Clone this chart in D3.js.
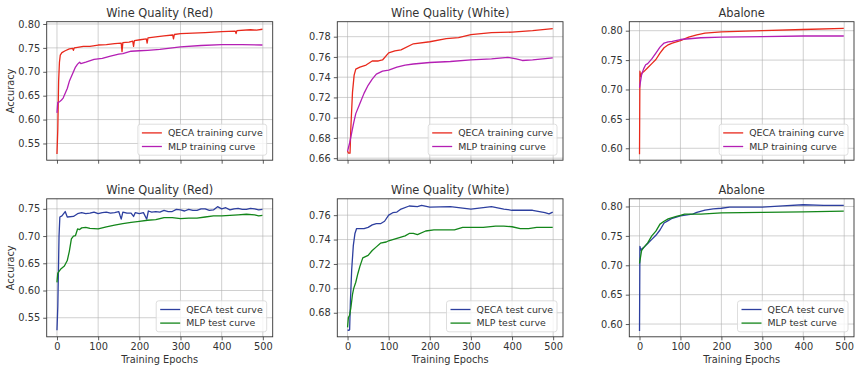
<!DOCTYPE html>
<html>
<head>
<meta charset="utf-8">
<script src="https://cdn.jsdelivr.net/npm/d3@7"></script>
<style>
  body { margin: 0; background: #fff; }
  svg { display: block; font-family: "DejaVu Sans", sans-serif; }
</style>
</head>
<body>
<div id="chart"></div>
<script>
// ---- data: [epoch, accuracy] ----
const epochTicks = [0, 100, 200, 300, 400, 500];
const titles = ["Wine Quality (Red)", "Wine Quality (White)", "Abalone"];
const trainLabels = ["QECA training curve", "MLP training curve"];
const testLabels = ["QECA test curve", "MLP test curve"];

const redTrainQeca = [[0,0.528],[2,0.58],[4,0.68],[6,0.72],[8,0.735],[12,0.74],[20,0.744],[30,0.748],[38,0.749],[40,0.745],[42,0.750],[50,0.751],[64,0.753],[80,0.753],[100,0.756],[120,0.757],[140,0.759],[156,0.760],[158,0.742],[160,0.761],[175,0.762],[184,0.764],[186,0.753],[188,0.765],[202,0.767],[217,0.769],[219,0.760],[221,0.771],[240,0.773],[260,0.775],[281,0.777],[283,0.769],[285,0.778],[300,0.780],[330,0.781],[360,0.782],[400,0.784],[433,0.785],[435,0.780],[437,0.786],[470,0.788],[485,0.787],[499,0.789]];
const redTrainMlp = [[0,0.614],[2,0.636],[6,0.637],[11,0.641],[15,0.645],[20,0.655],[25,0.665],[30,0.68],[35,0.69],[40,0.70],[45,0.71],[50,0.716],[55,0.720],[58,0.717],[70,0.720],[90,0.726],[110,0.728],[130,0.733],[150,0.737],[160,0.738],[180,0.743],[200,0.744],[220,0.745],[250,0.747],[300,0.752],[350,0.755],[400,0.757],[450,0.757],[499,0.756]];

const whiteTrainQeca = [[0,0.667],[2,0.665],[6,0.665],[8,0.69],[12,0.725],[16,0.742],[20,0.748],[30,0.750],[45,0.752],[60,0.756],[75,0.756],[85,0.757],[100,0.764],[115,0.766],[130,0.767],[160,0.773],[200,0.775],[240,0.778],[270,0.779],[300,0.782],[350,0.784],[400,0.7845],[450,0.786],[499,0.788]];
const whiteTrainMlp = [[0,0.667],[5,0.675],[10,0.685],[15,0.695],[20,0.704],[30,0.714],[40,0.724],[50,0.732],[60,0.738],[70,0.743],[85,0.746],[100,0.747],[120,0.750],[140,0.752],[160,0.753],[200,0.7545],[250,0.7555],[300,0.757],[350,0.758],[390,0.7595],[410,0.758],[425,0.7565],[450,0.757],[475,0.758],[499,0.759]];

const abaloneTrainQeca = [[0,0.59],[1,0.731],[3,0.722],[6,0.728],[10,0.730],[20,0.737],[30,0.744],[40,0.751],[50,0.762],[60,0.771],[70,0.776],[80,0.779],[90,0.781],[100,0.783],[120,0.789],[140,0.793],[160,0.796],[200,0.798],[300,0.800],[400,0.802],[499,0.804]];
const abaloneTrainMlp = [[0,0.703],[5,0.725],[10,0.735],[15,0.742],[20,0.744],[30,0.752],[40,0.762],[50,0.772],[60,0.779],[70,0.781],[80,0.782],[100,0.785],[150,0.788],[200,0.789],[300,0.790],[400,0.791],[499,0.791]];

const redTestQeca = [[0,0.527],[2,0.57],[5,0.70],[7,0.735],[12,0.737],[20,0.745],[25,0.735],[40,0.736],[50,0.741],[60,0.743],[70,0.741],[80,0.742],[90,0.744],[100,0.741],[110,0.743],[120,0.744],[130,0.742],[140,0.743],[150,0.745],[156,0.731],[160,0.744],[170,0.742],[180,0.742],[186,0.736],[190,0.743],[200,0.741],[210,0.743],[218,0.731],[222,0.746],[230,0.744],[240,0.745],[250,0.744],[260,0.747],[270,0.745],[280,0.745],[290,0.749],[300,0.748],[310,0.746],[320,0.749],[330,0.747],[340,0.747],[350,0.750],[360,0.750],[370,0.747],[380,0.748],[390,0.754],[400,0.750],[410,0.752],[420,0.748],[430,0.750],[440,0.751],[450,0.749],[460,0.749],[470,0.751],[480,0.750],[490,0.748],[499,0.749]];
const redTestMlp = [[0,0.615],[2,0.632],[5,0.635],[10,0.640],[18,0.645],[25,0.655],[30,0.672],[35,0.695],[40,0.700],[45,0.701],[50,0.713],[55,0.712],[60,0.715],[70,0.716],[80,0.714],[100,0.713],[120,0.717],[140,0.720],[160,0.723],[180,0.725],[200,0.727],[220,0.729],[240,0.730],[260,0.734],[280,0.734],[300,0.732],[320,0.733],[340,0.733],[360,0.735],[380,0.737],[400,0.737],[420,0.738],[440,0.739],[460,0.740],[480,0.739],[490,0.737],[499,0.738]];

const whiteTestQeca = [[0,0.666],[3,0.6655],[5,0.666],[7,0.69],[10,0.715],[14,0.735],[18,0.745],[22,0.749],[30,0.749],[40,0.749],[50,0.750],[60,0.752],[70,0.753],[80,0.753],[90,0.755],[100,0.760],[110,0.762],[120,0.7625],[130,0.765],[150,0.7675],[170,0.767],[180,0.768],[200,0.7665],[250,0.767],[300,0.765],[350,0.767],[380,0.765],[400,0.764],[450,0.764],[480,0.762],[490,0.761],[499,0.7625]];
const whiteTestMlp = [[0,0.668],[2,0.676],[5,0.678],[8,0.684],[12,0.695],[15,0.700],[20,0.705],[25,0.712],[30,0.718],[37,0.725],[50,0.727],[60,0.731],[70,0.734],[80,0.737],[94,0.738],[100,0.739],[120,0.741],[140,0.743],[150,0.745],[160,0.745],[170,0.744],[190,0.747],[210,0.748],[240,0.748],[260,0.748],[280,0.750],[300,0.750],[330,0.750],[360,0.751],[380,0.751],[400,0.7505],[420,0.749],[440,0.749],[460,0.750],[480,0.750],[499,0.750]];

const abaloneTestQeca = [[0,0.588],[1,0.732],[3,0.726],[6,0.728],[10,0.730],[20,0.737],[30,0.744],[40,0.751],[50,0.760],[60,0.772],[70,0.776],[80,0.780],[90,0.782],[100,0.784],[120,0.786],[130,0.787],[140,0.790],[160,0.794],[180,0.796],[200,0.797],[220,0.799],[250,0.799],[300,0.799],[350,0.801],[400,0.803],[450,0.802],[499,0.802]];
const abaloneTestMlp = [[0,0.703],[5,0.725],[10,0.730],[20,0.738],[30,0.750],[40,0.758],[50,0.770],[60,0.775],[70,0.779],[80,0.781],[90,0.783],[100,0.785],[110,0.787],[120,0.787],[150,0.787],[200,0.789],[300,0.790],[400,0.791],[499,0.792]];

const yTicksTop = [[0.55,0.60,0.65,0.70,0.75,0.80],[0.66,0.68,0.70,0.72,0.74,0.76,0.78],[0.60,0.65,0.70,0.75,0.80]];
const yTicksBottom = [[0.55,0.60,0.65,0.70,0.75],[0.68,0.70,0.72,0.74,0.76],[0.60,0.65,0.70,0.75,0.80]];

// ---- layout ----
const W = 857, H = 367;
const colX = [[46.7, 272.7], [337.3, 563], [629.3, 854]];
const rowY = [[21.7, 160.2], [198.8, 336.8]];
const yDomains = [
  [[0.515, 0.8048], [0.658, 0.7948], [0.5797, 0.8153]],
  [[0.515, 0.7684], [0.6603, 0.7734], [0.5783, 0.8131]]
];
const colors = { qecaTrain: "#e8291c", mlpTrain: "#b41fb4", qecaTest: "#2d3f9f", mlpTest: "#13861a" };
const textColor = "#333";

const panels = [
  { row: 0, col: 0, series: [redTrainQeca, redTrainMlp], names: trainLabels, colors: [colors.qecaTrain, colors.mlpTrain], yTicks: yTicksTop[0] },
  { row: 0, col: 1, series: [whiteTrainQeca, whiteTrainMlp], names: trainLabels, colors: [colors.qecaTrain, colors.mlpTrain], yTicks: yTicksTop[1] },
  { row: 0, col: 2, series: [abaloneTrainQeca, abaloneTrainMlp], names: trainLabels, colors: [colors.qecaTrain, colors.mlpTrain], yTicks: yTicksTop[2] },
  { row: 1, col: 0, series: [redTestQeca, redTestMlp], names: testLabels, colors: [colors.qecaTest, colors.mlpTest], yTicks: yTicksBottom[0] },
  { row: 1, col: 1, series: [whiteTestQeca, whiteTestMlp], names: testLabels, colors: [colors.qecaTest, colors.mlpTest], yTicks: yTicksBottom[1] },
  { row: 1, col: 2, series: [abaloneTestQeca, abaloneTestMlp], names: testLabels, colors: [colors.qecaTest, colors.mlpTest], yTicks: yTicksBottom[2] }
];

const svg = d3.select("#chart").append("svg")
  .attr("width", W).attr("height", H)
  .attr("viewBox", [0, 0, W, H]);

panels.forEach((p) => {
  const [x0, x1] = colX[p.col];
  const [y0, y1] = rowY[p.row];
  const x = d3.scaleLinear().domain([-24.95, 523.95]).range([x0, x1]);
  const y = d3.scaleLinear().domain(yDomains[p.row][p.col]).range([y1, y0]);
  const g = svg.append("g");

  // grid
  g.append("g").selectAll("line").data(epochTicks).join("line")
    .attr("x1", (d) => x(d)).attr("x2", (d) => x(d))
    .attr("y1", y0).attr("y2", y1)
    .attr("stroke", "#b0b0b0").attr("stroke-opacity", 0.6).attr("stroke-width", 1);
  g.append("g").selectAll("line").data(p.yTicks).join("line")
    .attr("x1", x0).attr("x2", x1)
    .attr("y1", (d) => y(d)).attr("y2", (d) => y(d))
    .attr("stroke", "#b0b0b0").attr("stroke-opacity", 0.6).attr("stroke-width", 1);

  // lines
  const line = d3.line().x((d) => x(d[0])).y((d) => y(d[1]));
  p.series.forEach((s, i) => {
    g.append("path").datum(s)
      .attr("fill", "none")
      .attr("stroke", p.colors[i])
      .attr("stroke-width", 1.3)
      .attr("stroke-linejoin", "round")
      .attr("d", line);
  });

  // axes
  const xAxis = g.append("g")
    .attr("transform", `translate(0,${y1})`)
    .call(d3.axisBottom(x).tickValues(epochTicks).tickSize(3.5).tickPadding(3)
      .tickFormat(p.row === 1 ? d3.format("d") : () => ""));
  const yAxis = g.append("g")
    .attr("transform", `translate(${x0},0)`)
    .call(d3.axisLeft(y).tickValues(p.yTicks).tickSize(3.5).tickPadding(3).tickFormat(d3.format(".2f")));
  [xAxis, yAxis].forEach((a) => {
    a.select(".domain").remove();
    a.selectAll(".tick line").attr("stroke", textColor).attr("stroke-width", 0.8);
    a.selectAll("text").attr("fill", textColor).style("font-size", "9.8px")
      .style("font-family", "DejaVu Sans");
  });

  // frame
  g.append("rect")
    .attr("x", x0).attr("y", y0)
    .attr("width", x1 - x0).attr("height", y1 - y0)
    .attr("fill", "none").attr("stroke", "#333").attr("stroke-width", 0.9);

  // title
  g.append("text")
    .attr("x", (x0 + x1) / 2).attr("y", y0 - 5)
    .attr("text-anchor", "middle")
    .attr("fill", textColor).style("font-size", "11.4px").style("font-weight", "normal")
    .text(titles[p.col]);

  if (p.col === 0) {
    g.append("text")
      .attr("transform", `translate(14,${(y0 + y1) / 2}) rotate(-90)`)
      .attr("text-anchor", "middle")
      .attr("fill", textColor).style("font-size", "9.8px")
      .text("Accuracy");
  }
  if (p.row === 1) {
    g.append("text")
      .attr("x", (x0 + x1) / 2).attr("y", y1 + 26.5)
      .attr("text-anchor", "middle")
      .attr("fill", textColor).style("font-size", "9.8px")
      .text("Training Epochs");
  }

  // legend
  const lg = g.append("g");
  const box = lg.append("rect");
  const texts = p.names.map((n, i) =>
    lg.append("text")
      .attr("x", 0).attr("y", i * 13.6)
      .attr("dy", "0.35em")
      .attr("fill", textColor).style("font-size", "9.4px")
      .text(n));
  const tw = d3.max(texts, (t) => t.node().getComputedTextLength());
  const bw = 4 + 20 + 6 + tw + 4;
  const bh = 31;
  const bx = x1 - 6 - bw;
  const by = y1 - 5 - bh;
  box.attr("x", bx).attr("y", by).attr("width", bw).attr("height", bh)
    .attr("rx", 2.5).attr("fill", "#fff").attr("fill-opacity", 0.8)
    .attr("stroke", "#d6d6d6").attr("stroke-width", 0.8);
  p.names.forEach((n, i) => {
    const ly = by + 8.7 + i * 13.6;
    lg.append("line")
      .attr("x1", bx + 4).attr("x2", bx + 24)
      .attr("y1", ly).attr("y2", ly)
      .attr("stroke", p.colors[i]).attr("stroke-width", 1.3);
    texts[i].attr("x", bx + 30).attr("y", ly);
  });
});
</script>
</body>
</html>
